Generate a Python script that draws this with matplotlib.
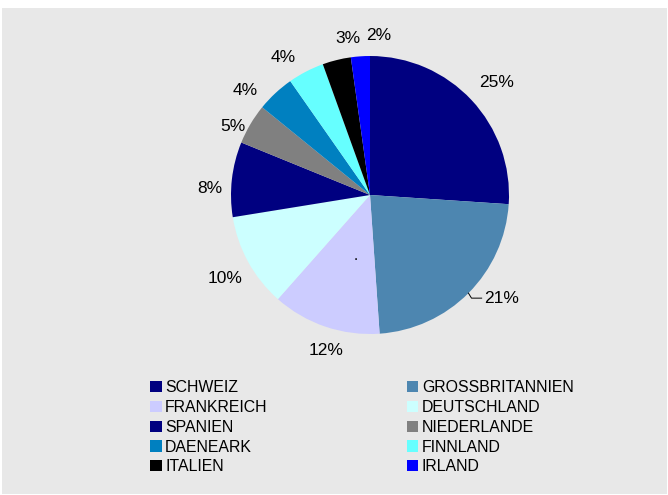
import numpy as np
import matplotlib
matplotlib.use("Agg")
import matplotlib.pyplot as plt
from matplotlib.patches import Rectangle, Patch

plt.rcParams["font.family"] = ["Liberation Sans", "DejaVu Sans"]

# values; printed labels as shown on the chart
countries = ["SCHWEIZ", "GROSSBRITANNIEN", "FRANKREICH", "DEUTSCHLAND", "SPANIEN",
             "NIEDERLANDE", "DAENEARK", "FINNLAND", "ITALIEN", "IRLAND"]
shares = [26.0, 22.8, 12.6, 10.9, 8.7, 4.7, 4.4, 4.2, 3.3, 2.2]
pct_labels = ["25%", "21%", "12%", "10%", "8%", "5%", "4%", "4%", "3%", "2%"]
colors = ["#000080", "#4D86B0", "#CCCCFF", "#CCFFFF", "#000080",
          "#808080", "#0080C0", "#66FFFF", "#000000", "#0000FF"]

W, H = 668, 495
fig = plt.figure(figsize=(W / 100, H / 100), dpi=100)
fig.patch.set_facecolor("white")
fig.add_artist(Rectangle((2 / W, 1 / H), 665 / W, 486 / H, transform=fig.transFigure,
                         facecolor="#E8E8E8", edgecolor="none", zorder=0))

cx, cy, r = 370, 195, 139
ax = fig.add_axes([(cx - r) / W, (H - cy - r) / H, 2 * r / W, 2 * r / H])

wedges, _ = ax.pie(shares, colors=colors, startangle=90, counterclock=False,
                   radius=1, wedgeprops=dict(linewidth=0))
ax.set_xlim(-1, 1)
ax.set_ylim(-1, 1)
ax.axis("off")

# label radius per slice (Excel nudges them a bit)
label_r = [1.22, 1.21, 1.16, 1.2, 1.15, 1.1, 1.17, 1.17, 1.14, 1.15]
angle_shift = [-1.5, 0, 3, 1, 4, 4, 7, 5, -6, -7]
for w, txt, lr, da in zip(wedges, pct_labels, label_r, angle_shift):
    mid = np.deg2rad((w.theta1 + w.theta2) / 2 + da)
    x, y = lr * np.cos(mid), lr * np.sin(mid)
    if txt == "21%":
        # leader line from the slice edge to the moved label
        ex, ey = np.cos(mid), np.sin(mid)
        ax.plot([ex, ex + 0.022, ex + 0.095], [ey, ey - 0.036, ey - 0.036],
                color="black", lw=0.7, clip_on=False)
        ax.text(ex + 0.11, ey - 0.036, txt, ha="left", va="center", fontsize=12.5)
    else:
        ax.text(x, y, txt, ha="center", va="center", fontsize=12.5)

ax.text(-0.1, -0.49, ".", ha="center", va="bottom", fontsize=11)

# legend laid out row-wise in two columns
handles = [Patch(facecolor=c, edgecolor="none") for c in colors]
order = list(range(0, 10, 2)) + list(range(1, 10, 2))
leg = fig.legend([handles[i] for i in order], [countries[i] for i in order],
                 ncol=2, loc="upper left", bbox_to_anchor=(144 / W, 1 - 374 / H),
                 frameon=False, fontsize=11.4, handlelength=0.72, handleheight=0.72,
                 handletextpad=0.22, labelspacing=0.3, columnspacing=8.8,
                 borderaxespad=0)

fig.savefig("out.png", dpi=100)
